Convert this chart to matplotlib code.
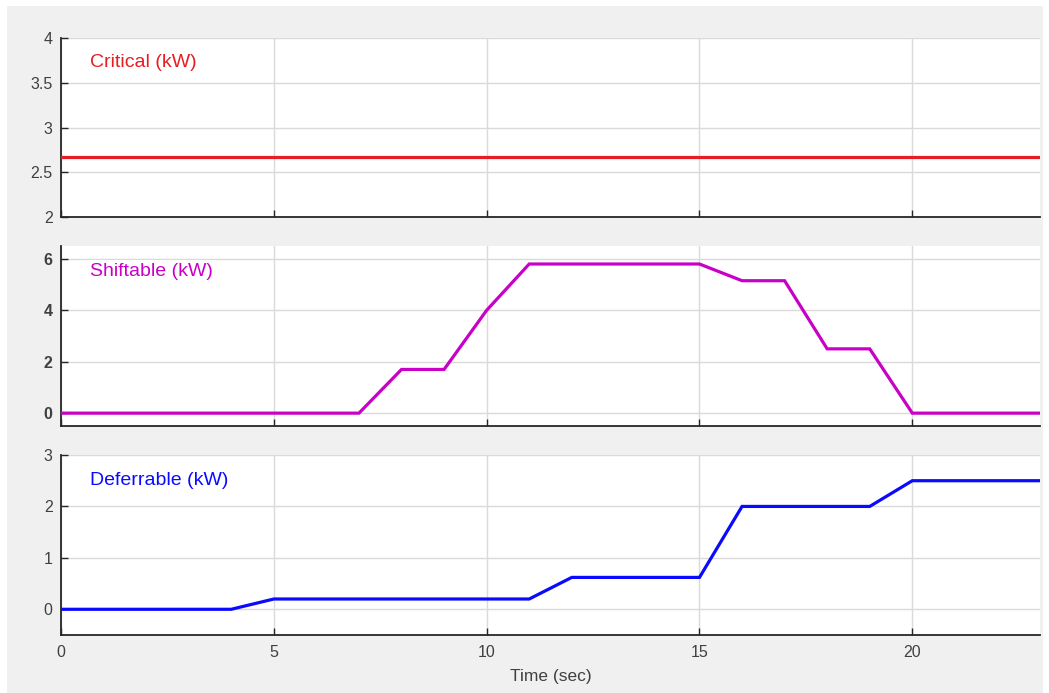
import matplotlib
matplotlib.use("Agg")
import matplotlib.pyplot as plt
from matplotlib.patches import Rectangle

# ---- data ----
t_critical = [0, 23]
critical_kw = [2.67, 2.67]

t_shiftable = [0, 7, 8, 9, 10, 11, 15, 16, 17, 18, 19, 20, 23]
shiftable_kw = [0, 0, 1.7, 1.7, 4.0, 5.8, 5.8, 5.15, 5.15, 2.5, 2.5, 0, 0]

t_deferrable = [0, 4, 5, 11, 12, 15, 16, 19, 20, 23]
deferrable_kw = [0, 0, 0.2, 0.2, 0.62, 0.62, 2.0, 2.0, 2.5, 2.5]

x_ticks = [0, 5, 10, 15, 20]
y_ticks_top = [2, 2.5, 3, 3.5, 4]
y_ticks_mid = [0, 2, 4, 6]
y_ticks_bot = [0, 1, 2, 3]

labels = ["Critical (kW)", "Shiftable (kW)", "Deferrable (kW)"]
colors = ["#e61e24", "#c800c8", "#0a0aff"]

plt.rcParams['font.family'] = ['Liberation Sans', 'DejaVu Sans']

W, H = 1049, 693
fig = plt.figure(figsize=(W / 100, H / 100), dpi=100, facecolor='white')
bg = Rectangle((7 / W, 0), (1043 - 7) / W, (H - 6) / H,
               transform=fig.transFigure, facecolor='#f0f0f0',
               edgecolor='none', zorder=-10)
fig.add_artist(bg)

left = 61 / W
width = (1040 - 61) / W
rows = [(38, 217), (246, 426), (455, 635)]
axes = []
for (top, bot) in rows:
    ax = fig.add_axes([left, 1 - bot / H, width, (bot - top) / H])
    axes.append(ax)

series = [(t_critical, critical_kw), (t_shiftable, shiftable_kw), (t_deferrable, deferrable_kw)]
ylims = [(2, 4), (-0.5, 6.5), (-0.5, 3)]
yticks = [y_ticks_top, y_ticks_mid, y_ticks_bot]
label_y = [0.865, 0.86, 0.86]

for i, ax in enumerate(axes):
    ax.set_facecolor('white')
    t, v = series[i]
    ax.plot(t, v, color=colors[i], lw=2.3, solid_joinstyle='miter', zorder=3)
    ax.set_xlim(0, 23)
    ax.set_ylim(*ylims[i])
    ax.set_xticks(x_ticks)
    ax.set_yticks(yticks[i])
    ax.grid(True, color='#dadada', lw=1)
    ax.set_axisbelow(True)
    for s in ['top', 'right']:
        ax.spines[s].set_visible(False)
    for s in ['left', 'bottom']:
        ax.spines[s].set_color('#262626')
        ax.spines[s].set_linewidth(1.3)
    ax.tick_params(direction='in', length=5, width=1, color='#262626',
                   labelcolor='#404040', labelsize=11.5, pad=6)
    ax.tick_params(axis='x', pad=7)
    if i < 2:
        ax.tick_params(axis='x', labelbottom=False)
    ax.text(0.0296, label_y[i], labels[i], transform=ax.transAxes, color=colors[i],
            fontsize=14, va='center', ha='left', zorder=4,
            bbox=dict(facecolor='white', edgecolor='none', pad=2))

axes[0].set_yticklabels(['2', '2.5', '3', '3.5', '4'])
for lab in axes[1].get_yticklabels():
    lab.set_fontweight('bold')
axes[2].set_xlabel('Time (sec)', fontsize=12.5, color='#404040', labelpad=7)

fig.savefig('out.png', dpi=100, facecolor=fig.get_facecolor())
